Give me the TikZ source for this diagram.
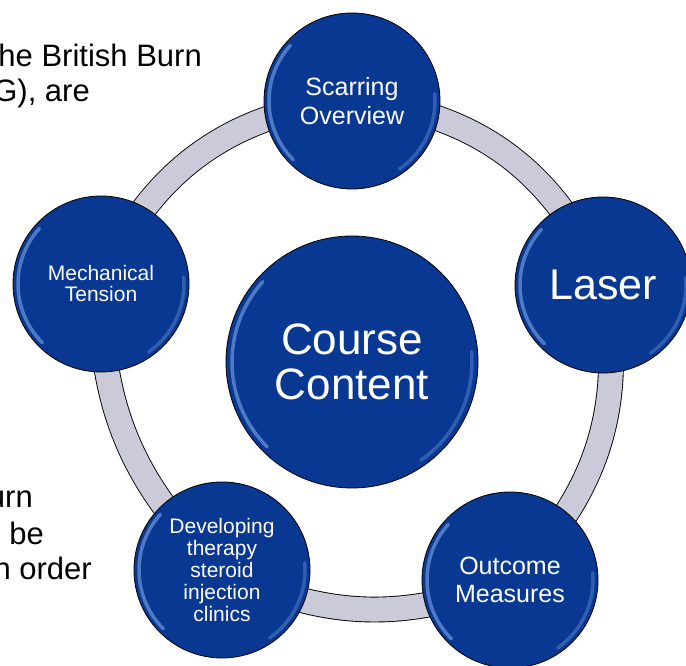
\documentclass[tikz,border=0pt]{standalone}
\usepackage{fontspec}
\setmainfont{Liberation Sans}
\usetikzlibrary{positioning,backgrounds}
\definecolor{ballblue}{RGB}{8,56,146}
\definecolor{glossblue}{RGB}{125,165,232}
\definecolor{ringgray}{RGB}{202,202,216}
\tikzset{
  ball/.style={circle,draw=black,line width=0.8pt,fill=ballblue,text=white,
    align=center,minimum size=176pt,inner sep=0pt},
  ring/.style={draw=black,line width=0.9pt,double=ringgray,double distance=24pt},
  gloss/.style={glossblue,line width=3.5pt,line cap=round,opacity=0.6},
  note/.style={anchor=base east,inner sep=0pt,font=\fontsize{31}{34}\selectfont}
}
\begin{document}
\begin{tikzpicture}[x=1pt,y=1pt]
  \useasboundingbox (0,0) rectangle (686,666);
  \clip (0,0) rectangle (686,666);
  % page text behind the figure
  \node[note] (n1) at (202,599) {he British Burn};
  \node[note] (n2) at (90,564) {G), are};
  \node[note] (n3) at (33,158) {urn};
  \node[note] (n4) at (44,121) {be};
  \node[note] (n5) at (92,86) {h order};
  % outer circles
  \node[ball,font=\fontsize{25}{29}\selectfont] (scar) at (352,565) {Scarring\\Overview};
  \node[ball,font=\fontsize{43}{45}\selectfont] (laser) at (603,381) {Laser};
  \node[ball,font=\fontsize{25}{28}\selectfont] (outcome) at (510,86) {Outcome\\Measures};
  \node[ball,font=\fontsize{21}{22}\selectfont] (steroid) at (222,96)
    {Developing\\therapy\\steroid\\injection\\clinics};
  \node[ball,font=\fontsize{21}{21}\selectfont] (tension) at (101,382) {Mechanical\\Tension};
  % centre circle
  \node[ball,minimum size=252pt,font=\fontsize{44}{45}\selectfont] (course) at (352,304)
    {Course\\Content};
  % ring behind the circles
  \begin{scope}[on background layer]
    \draw[ring] (scar.center) to[bend left=32] (laser.center);
    \draw[ring] (laser.center) to[bend left=29] (outcome.center);
    \draw[ring] (outcome.center) to[bend left=24] (steroid.center);
    \draw[ring] (steroid.center) to[bend left=24] (tension.center);
    \draw[ring] (tension.center) to[bend left=31] (scar.center);
  \end{scope}
  % glossy rims
  \foreach \n/\r in {scar/83,laser/83,outcome/83,steroid/83,tension/83,course/120}
  {
    \draw[gloss] (\n.center) ++(138:\r) arc[start angle=138,end angle=225,radius=\r];
    \draw[gloss,opacity=0.35] (\n.center) ++(-55:\r) arc[start angle=-55,end angle=5,radius=\r];
  }
\end{tikzpicture}
\end{document}
